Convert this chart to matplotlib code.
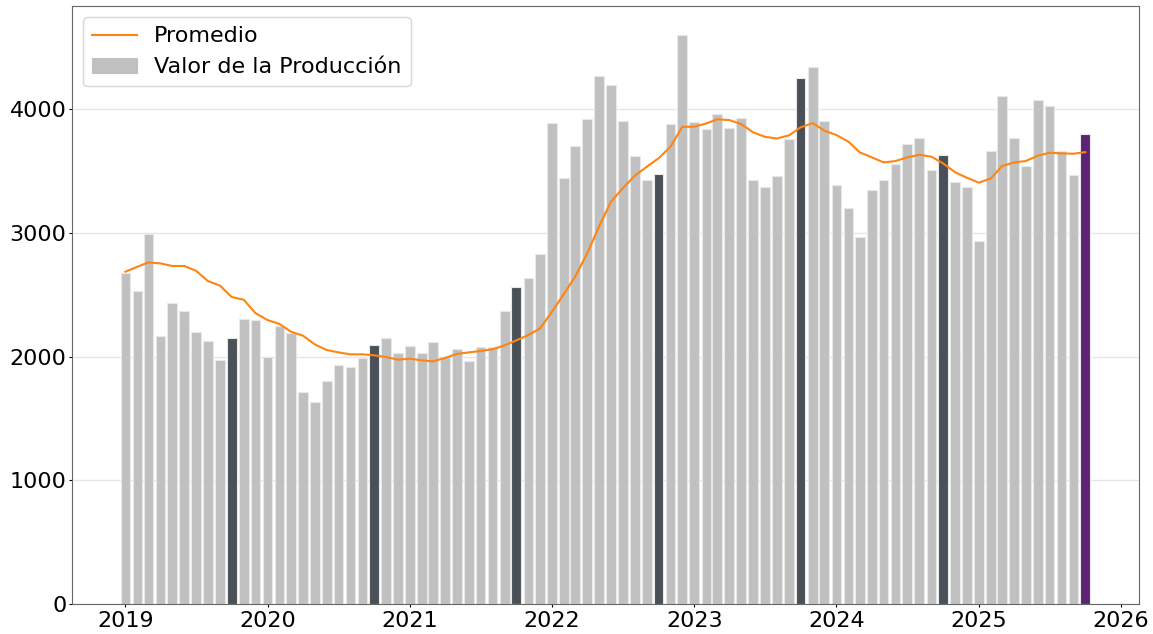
# monthly production value with 12-month average line, October bars highlighted
import numpy as np
import pandas as pd
import matplotlib.pyplot as plt

meses = pd.date_range('2019-01-01', '2025-10-01', freq='MS')

valor_2019 = [2674, 2531, 2989, 2167, 2431, 2367, 2200, 2127, 1971, 2151, 2302, 2294]
valor_2020 = [2000, 2245, 2194, 1712, 1637, 1804, 1931, 1919, 1992, 2094, 2151, 2032]
valor_2021 = [2086, 2032, 2121, 1995, 2060, 1968, 2076, 2076, 2372, 2566, 2634, 2828]
valor_2022 = [3888, 3446, 3702, 3923, 4265, 4192, 3904, 3624, 3430, 3473, 3880, 4601]
valor_2023 = [3893, 3842, 3963, 3845, 3928, 3425, 3368, 3460, 3756, 4254, 4338, 3901]
valor_2024 = [3384, 3199, 2967, 3349, 3425, 3557, 3718, 3769, 3506, 3632, 3414, 3371]
valor_2025 = [2935, 3662, 4103, 3769, 3543, 4074, 4029, 3662, 3468, 3799]

prom_2019 = [2687, 2727, 2762, 2754, 2733, 2733, 2695, 2611, 2574, 2482, 2460, 2352]
prom_2020 = [2296, 2264, 2202, 2170, 2100, 2054, 2035, 2019, 2019, 2011, 1997, 1976]
prom_2021 = [1984, 1970, 1962, 1990, 2022, 2035, 2046, 2060, 2092, 2132, 2175, 2229]
prom_2022 = [2365, 2512, 2646, 2835, 3050, 3252, 3360, 3462, 3535, 3603, 3697, 3858]
prom_2023 = [3858, 3885, 3918, 3912, 3880, 3813, 3777, 3763, 3788, 3853, 3888, 3826]
prom_2024 = [3791, 3737, 3651, 3611, 3570, 3581, 3611, 3632, 3616, 3562, 3490, 3446]
prom_2025 = [3406, 3441, 3540, 3570, 3581, 3624, 3648, 3643, 3640, 3653]

valor = np.array(valor_2019 + valor_2020 + valor_2021 + valor_2022 +
                 valor_2023 + valor_2024 + valor_2025)
promedio = np.array(prom_2019 + prom_2020 + prom_2021 + prom_2022 +
                    prom_2023 + prom_2024 + prom_2025)

# colors: grey by default, dark for October, purple for the latest month
colores = ['#c0c0c0'] * len(meses)
for i, m in enumerate(meses):
    if m.month == 10:
        colores[i] = '#495057'
colores[-1] = '#5c2273'

fig = plt.figure(figsize=(11.53, 6.34), dpi=100)
ax = fig.add_axes([0.0625, 0.047, 0.925, 0.943])

ax.bar(meses, valor, width=25, color=colores, edgecolor='#e8e8e8',
       linewidth=0.8, label='Valor de la Producción', zorder=2)
ax.plot(meses, promedio, color='#ff8410', linewidth=1.5, label='Promedio', zorder=3)

ax.grid(axis='y', color='#e6e6e6', linewidth=1, zorder=0)
ax.set_axisbelow(True)
for s in ax.spines.values():
    s.set_color('#666666')
ax.tick_params(labelsize=16, length=2.5)
ax.tick_params(axis='y', pad=1.5)
ax.tick_params(axis='x', pad=2.5)

handles, labels = ax.get_legend_handles_labels()
leg = ax.legend(handles, labels, loc='upper left', fontsize=16)
leg.legend_handles[1].set_color('#c0c0c0')

fig.savefig('out.png', dpi=100)
